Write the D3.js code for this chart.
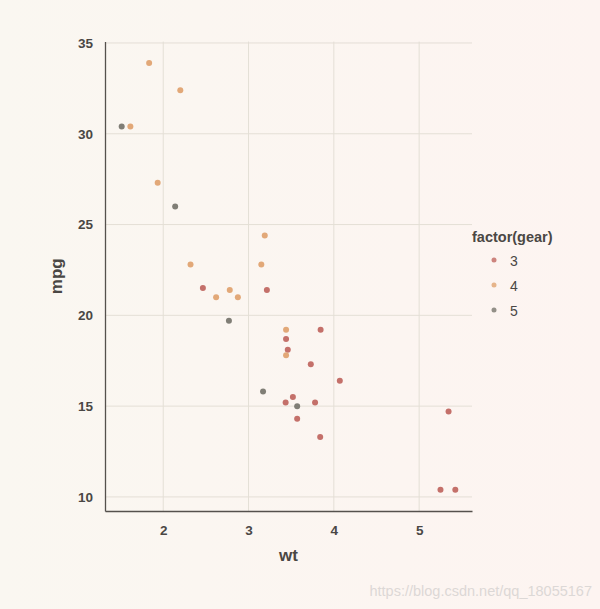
<!DOCTYPE html>
<html><head><meta charset="utf-8">
<script src="https://cdn.jsdelivr.net/npm/d3@7/dist/d3.min.js"></script>
<style>body{margin:0;}svg{display:block;}</style>
</head><body>
<script>
const wt  = [2.620,2.875,2.320,3.215,3.440,3.460,3.570,3.190,3.150,3.440,3.440,4.070,3.730,3.780,5.250,5.424,5.345,2.200,1.615,1.835,2.465,3.520,3.435,3.840,3.845,1.935,2.140,1.513,3.170,2.770,3.570,2.780];
const mpg = [21.0,21.0,22.8,21.4,18.7,18.1,14.3,24.4,22.8,19.2,17.8,16.4,17.3,15.2,10.4,10.4,14.7,32.4,30.4,33.9,21.5,15.5,15.2,13.3,19.2,27.3,26.0,30.4,15.8,19.7,15.0,21.4];
const gear = [4,4,4,3,3,3,3,4,4,4,4,3,3,3,3,3,3,4,4,4,3,3,3,3,3,4,5,5,5,5,5,4];
const gearLevels = ["3","4","5"];
const xTicks = [2,3,4,5];
const yTicks = [10,15,20,25,30,35];

const W=600,H=609;
const svg=d3.select("body").append("svg").attr("width",W).attr("height",H);
const defs=svg.append("defs");
const g1=defs.append("linearGradient").attr("id","bg").attr("x1","0").attr("x2","1").attr("y1","0").attr("y2","0");
g1.append("stop").attr("offset","0").attr("stop-color","#faf7f1");
g1.append("stop").attr("offset","1").attr("stop-color","#fdf4f1");
svg.append("rect").attr("width",W).attr("height",H).attr("fill","url(#bg)");

const L=105,R=472,T=41.6,B=511;
const xr=d3.extent(wt), yr=d3.extent(mpg);
const xe=(xr[1]-xr[0])*0.05, ye=(yr[1]-yr[0])*0.05;
const x=d3.scaleLinear().domain([xr[0]-xe,xr[1]+xe]).range([L,R]);
const y=d3.scaleLinear().domain([yr[0]-ye,yr[1]+ye]).range([B,T]);
const color=d3.scaleOrdinal().domain(gearLevels).range(["#c4706a","#e2a878","#807e76"]);
const FF="Liberation Sans, Arial, sans-serif";

const grid=svg.append("g");
grid.selectAll(".gx").data(xTicks).join("line").attr("x1",d=>x(d)).attr("x2",d=>x(d)).attr("y1",T).attr("y2",B).attr("stroke","#e4dfd6").attr("stroke-width",1);
grid.selectAll(".gy").data(yTicks).join("line").attr("y1",d=>y(d)).attr("y2",d=>y(d)).attr("x1",L).attr("x2",R).attr("stroke","#e4dfd6").attr("stroke-width",1);

const xa=svg.append("g").attr("transform",`translate(0,${B})`).call(d3.axisBottom(x).tickValues(xTicks).tickSize(0).tickPadding(14).tickFormat(d3.format("d")));
const ya=svg.append("g").attr("transform",`translate(${L},0)`).call(d3.axisLeft(y).tickValues(yTicks).tickSize(0).tickPadding(12).tickFormat(d3.format("d")));
[xa,ya].forEach(a=>{
  a.select(".domain").attr("stroke","#55514d").attr("stroke-width",1.3);
  a.selectAll("text").attr("fill","#4a4744").attr("font-family",FF).attr("font-size",13.5).attr("font-weight","bold");
});
xa.selectAll("text").attr("dy","0.71em");

svg.append("text").attr("x",(L+R)/2).attr("y",561).attr("text-anchor","middle").attr("font-family",FF).attr("font-size",17).attr("font-weight","bold").attr("fill","#4a4744").text("wt");
svg.append("text").attr("transform",`translate(62,${(T+B)/2}) rotate(-90)`).attr("text-anchor","middle").attr("font-family",FF).attr("font-size",17).attr("font-weight","bold").attr("fill","#4a4744").text("mpg");

const idx=d3.range(wt.length);
svg.append("g").selectAll("circle").data(idx).join("circle")
  .attr("cx",i=>x(wt[i])).attr("cy",i=>y(mpg[i])).attr("r",3)
  .attr("fill",i=>color(String(gear[i])));

const lg=svg.append("g");
lg.append("text").attr("x",472).attr("y",242).attr("font-family",FF).attr("font-size",14.5).attr("font-weight","bold").attr("fill","#4a4744").text("factor(gear)");
gearLevels.forEach((lv,k)=>{
  const cy=260+k*25;
  lg.append("circle").attr("cx",494).attr("cy",cy).attr("r",2.5).attr("fill",color(lv)).attr("opacity",0.85);
  lg.append("text").attr("x",510).attr("y",cy+5.5).attr("font-family",FF).attr("font-size",14).attr("fill","#4a4744").text(lv);
});

svg.append("text").attr("x",592).attr("y",596).attr("text-anchor","end").attr("font-family",FF).attr("font-size",14.5).attr("fill","#dcd8d6").text("https://blog.csdn.net/qq_18055167");
</script>
</body></html>
